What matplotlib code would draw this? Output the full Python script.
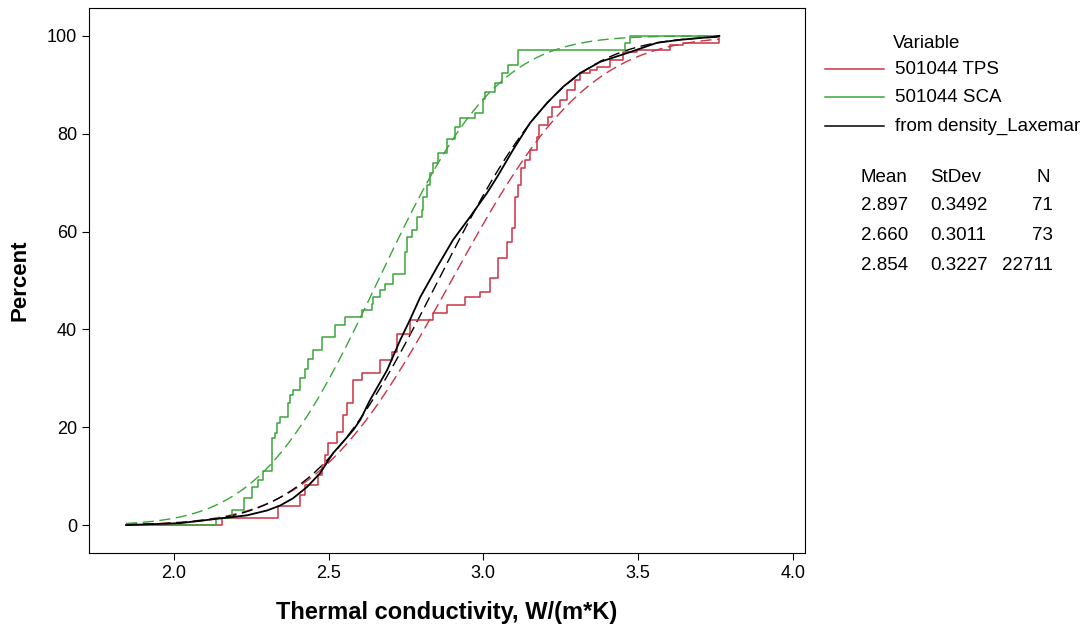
import math
import numpy as np
import matplotlib
matplotlib.use("Agg")
import matplotlib.pyplot as plt
from matplotlib.lines import Line2D

plt.rcParams['font.family'] = ['Liberation Sans', 'DejaVu Sans']

W, H = 1088, 632

# empirical CDF of 501044 TPS (step positions, percent after the step)
tps_x = [1.845, 2.155, 2.336, 2.407, 2.424, 2.466, 2.479, 2.488, 2.498, 2.527,
         2.547, 2.560, 2.579, 2.608, 2.666, 2.705, 2.721, 2.763, 2.838, 2.883,
         2.941, 2.990, 3.022, 3.048, 3.077, 3.093, 3.103, 3.113, 3.122, 3.135,
         3.151, 3.174, 3.180, 3.210, 3.223, 3.248, 3.271, 3.297, 3.313, 3.345,
         3.368, 3.410, 3.452, 3.497, 3.604, 3.646, 3.763]
tps_pct = [0, 1.4, 3.9, 6.1, 8.2, 10.2, 12.3, 14.3, 16.8, 19.0,
           22.5, 25.0, 29.6, 31.0, 33.7, 35.4, 39.0, 42.0, 43.3, 45.0,
           46.6, 47.6, 50.5, 54.6, 57.9, 60.7, 67.0, 69.5, 73.0, 74.6,
           76.7, 79.3, 81.8, 83.5, 85.5, 86.9, 89.0, 91.0, 92.4, 93.0,
           93.7, 95.0, 96.7, 97.1, 98.2, 98.6, 100]

# empirical CDF of 501044 SCA
sca_x = [1.845, 2.136, 2.188, 2.225, 2.252, 2.272, 2.288, 2.317, 2.327, 2.333,
         2.343, 2.369, 2.375, 2.385, 2.407, 2.424, 2.433, 2.450, 2.479, 2.521,
         2.553, 2.608, 2.640, 2.644, 2.666, 2.682, 2.708, 2.747, 2.754, 2.770,
         2.786, 2.802, 2.805, 2.818, 2.828, 2.838, 2.854, 2.883, 2.909, 2.925,
         2.973, 2.999, 3.006, 3.038, 3.061, 3.080, 3.113, 3.459, 3.475, 3.763]
sca_pct = [0, 1.4, 3.0, 5.5, 7.8, 9.2, 11.0, 17.8, 18.8, 20.9,
           22.0, 25.0, 26.6, 27.6, 30.0, 32.0, 34.0, 35.8, 38.4, 41.0,
           42.5, 44.0, 45.2, 46.6, 48.0, 49.3, 51.4, 55.8, 58.9, 60.3,
           63.0, 64.4, 67.0, 69.5, 72.0, 74.0, 76.0, 79.0, 81.4, 83.2,
           84.2, 87.0, 88.5, 90.4, 92.4, 94.0, 97.1, 98.6, 100, 100]

# empirical CDF of density_Laxemar (22711 values, read as a curve)
lax_x = [1.845, 2.019, 2.126, 2.236, 2.301, 2.343, 2.385, 2.430, 2.472, 2.514,
         2.560, 2.579, 2.602, 2.634, 2.689, 2.731, 2.763, 2.796, 2.851, 2.902,
         2.957, 3.012, 3.045, 3.096, 3.151, 3.206, 3.258, 3.313, 3.378, 3.475,
         3.562, 3.636, 3.743, 3.763]
lax_pct = [0, 0.4, 1.2, 2.0, 3.0, 4.0, 5.5, 7.8, 10.6, 14.7,
           18.0, 19.4, 21.5, 25.6, 31.7, 37.8, 42.0, 46.6, 52.8, 58.3,
           63.0, 67.9, 71.2, 76.7, 82.2, 86.3, 89.6, 92.4, 94.7, 96.7,
           98.6, 99.2, 99.8, 100]

labels = ['501044 TPS', '501044 SCA', 'from density_Laxemar']
means = [2.897, 2.660, 2.854]
stdevs = [0.3492, 0.3011, 0.3227]
counts = [71, 73, 22711]
colors = ['#cc3344', '#3aa63a', '#000000']

fig = plt.figure(figsize=(W / 100, H / 100), dpi=100)
ax = fig.add_axes([89 / W, 1 - 553 / H, (805 - 89) / W, (553 - 8) / H])

# fitted normal CDFs from the shown mean / stdev
xs = np.linspace(1.845, 3.763, 300)
for m, s, c in zip(means, stdevs, colors):
    fit = [50 * (1 + math.erf((v - m) / (s * math.sqrt(2)))) for v in xs]
    ax.plot(xs, fit, color=c, lw=1.0, dashes=(8, 4))

ax.step(tps_x, tps_pct, where='post', color=colors[0], lw=1.1)
ax.step(sca_x, sca_pct, where='post', color=colors[1], lw=1.1)
ax.plot(lax_x, lax_pct, color=colors[2], lw=1.3, zorder=3)

ax.set_xlim(1.725, 4.04)
ax.set_ylim(-5.7, 105.7)
ax.set_xticks([2.0, 2.5, 3.0, 3.5, 4.0])
ax.set_yticks([0, 20, 40, 60, 80, 100])
ax.tick_params(direction='out', length=5, width=0.8, labelsize=13)
for sp in ax.spines.values():
    sp.set_linewidth(0.8)
ax.set_xlabel('Thermal conductivity, W/(m*K)', fontsize=17, fontweight='bold', labelpad=14)
ax.set_ylabel('Percent', fontsize=16, fontweight='bold', labelpad=12)


def fx(px):
    return px / W


def fy(py):
    return 1 - py / H


fs = 13.5
fig.text(fx(893), fy(43), 'Variable', fontsize=fs, va='center')
for i, (lab, c) in enumerate(zip(labels, colors)):
    y = [69, 97, 126][i]
    fig.add_artist(Line2D([fx(825), fx(884)], [fy(y), fy(y)], color=c, lw=1.1))
    fig.text(fx(895), fy(y), lab, fontsize=fs, va='center')

fig.text(fx(860), fy(178), 'Mean', fontsize=fs, va='center')
fig.text(fx(930), fy(178), 'StDev', fontsize=fs, va='center')
fig.text(fx(1050), fy(178), 'N', fontsize=fs, va='center', ha='right')
for i, (m, s, n) in enumerate(zip(means, stdevs, counts)):
    y = [206, 235, 265][i]
    fig.text(fx(861), fy(y), f'{m:.3f}', fontsize=fs, va='center')
    fig.text(fx(930), fy(y), f'{s:.4f}', fontsize=fs, va='center')
    fig.text(fx(1053), fy(y), f'{n}', fontsize=fs, va='center', ha='right')

fig.savefig('out.png', dpi=100)
